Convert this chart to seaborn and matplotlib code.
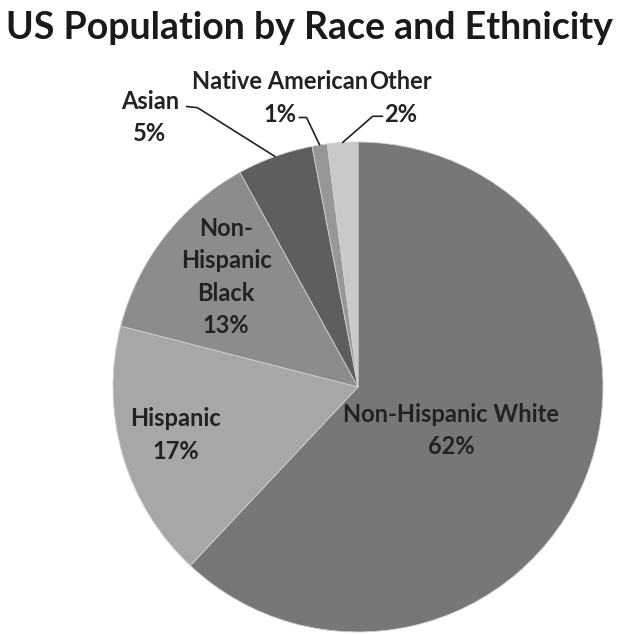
import numpy as np
import matplotlib.pyplot as plt
import seaborn as sns

groups = ["Non-Hispanic White", "Hispanic", "Non-Hispanic Black", "Asian", "Native American", "Other"]
shares = [62, 17, 13, 5, 1, 2]
labels = ["Non-Hispanic White\n62%", "Hispanic\n17%", "Non-\nHispanic\nBlack\n13%",
          "Asian\n5%", "Native American\n1%", "Other\n2%"]
greys = ["#77777a", "#a7a7a9", "#8c8c8f", "#5e5e60", "#97979a", "#c9c9cb"]

sns.set_theme(style="white")
plt.rcParams['font.family'] = ['Lato', 'DejaVu Sans']

fig = plt.figure(figsize=(6.21, 6.35), dpi=100)
ax = fig.add_axes([0, 0, 1, 1])

wedges, _ = ax.pie(shares, colors=sns.color_palette(greys), startangle=90, counterclock=False,
                   radius=1.0, wedgeprops=dict(edgecolor="#d0d0d2", linewidth=0.6))

ax.set_xlim(-358 / 245, (621 - 358) / 245)
ax.set_ylim(-(635 - 387) / 245, 387 / 245)
ax.set_aspect("equal")
ax.axis("off")

def mid_angle(w):
    return np.deg2rad((w.theta1 + w.theta2) / 2)

# labels inside the pie (radius, angle nudge in degrees)
inside = {0: (0.42, -3.5), 1: (0.77, -1.5), 2: (0.70, -2)}
for i, (r, nudge) in inside.items():
    a = mid_angle(wedges[i]) + np.deg2rad(nudge)
    ax.text(r * np.cos(a), r * np.sin(a), labels[i], ha="center", va="center",
            fontsize=17, fontweight="bold", color="#222222", linespacing=1.5)

# labels outside with leader lines
outside = {
    3: dict(text=(-0.85, 1.10), start=(-0.70, 1.145), elbow=(-0.655, 1.14)),
    4: dict(text=(-0.32, 1.18), start=(-0.24, 1.10), elbow=(-0.21, 1.10)),
    5: dict(text=(0.175, 1.18), start=(0.10, 1.105), elbow=(0.06, 1.105)),
}
for i, o in outside.items():
    a = mid_angle(wedges[i])
    tip = (np.cos(a) * 1.0, np.sin(a) * 1.0)
    ax.text(*o["text"], labels[i], ha="center", va="center", fontsize=17,
            fontweight="bold", color="#222222", linespacing=1.5)
    xs = [o["start"][0], o["elbow"][0], tip[0]]
    ys = [o["start"][1], o["elbow"][1], tip[1]]
    ax.plot(xs, ys, color="#222222", linewidth=1.2)

fig.text(0.498, 1 - 28 / 635, "US Population by Race and Ethnicity", ha="center", va="center",
         fontsize=27, fontweight="bold", color="#1a1a1a")

plt.savefig("out.png", dpi=100)
